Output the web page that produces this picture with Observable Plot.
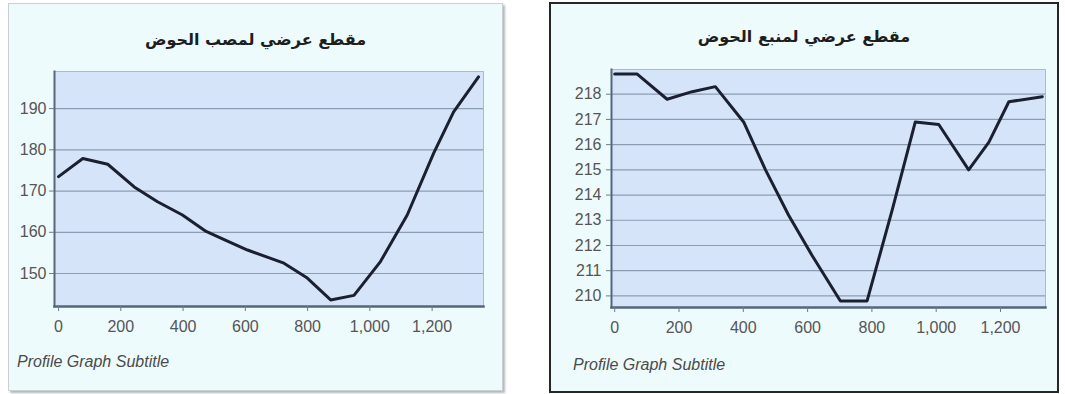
<!DOCTYPE html>
<html>
<head>
<meta charset="utf-8">
<script src="https://cdn.jsdelivr.net/npm/d3@7"></script>
<script src="https://cdn.jsdelivr.net/npm/@observablehq/plot@0.6"></script>
<style>
  html, body { margin: 0; padding: 0; background: #ffffff; width: 1065px; height: 394px; overflow: hidden; }
  .panel { position: absolute; box-sizing: border-box; background: #eefbfc; }
  #leftPanel { left: 8px; top: 3px; width: 495px; height: 388px; border: 1px solid #c9cfd3; box-shadow: 2px 2px 2px #b5b9bc; }
  #rightPanel { left: 549px; top: 2px; width: 510px; height: 391px; border: 2px solid #262626; }
  .title { position: absolute; left: 0; right: 0; text-align: center; font-family: "DejaVu Sans", sans-serif; font-weight: bold; font-size: 16px; color: #1e1e1e; direction: rtl; }
  .subtitle { position: absolute; font-family: "Liberation Sans", Arial, sans-serif; font-style: italic; font-size: 16px; color: #4a4a4a; }
  .chart { position: absolute; left: 0; }
  .chart svg { display: block; overflow: visible; }
</style>
</head>
<body>
<div id="leftPanel" class="panel">
  <div class="title" id="leftTitle" style="top:26px"></div>
  <div class="chart" id="leftChart" style="top:55px"></div>
  <div class="subtitle" style="left:8px; top:349px">Profile Graph Subtitle</div>
</div>
<div id="rightPanel" class="panel">
  <div class="title" id="rightTitle" style="top:23px"></div>
  <div class="chart" id="rightChart" style="top:54px"></div>
  <div class="subtitle" style="left:22px; top:352px">Profile Graph Subtitle</div>
</div>
<script>
// ---- data ----
const leftTitleText = "مقطع عرضي لمصب الحوض";
const rightTitleText = "مقطع عرضي لمنبع الحوض";

const leftDistance  = [0, 78, 158, 243, 318, 398, 474, 532, 607, 724, 799, 874, 949, 1034, 1120, 1205, 1269, 1349];
const leftElevation = [173.5, 177.9, 176.5, 171.0, 167.4, 164.2, 160.2, 158.2, 155.7, 152.5, 148.9, 143.6, 144.7, 152.9, 164.2, 179.2, 189.2, 197.7];

const rightDistance  = [0, 70, 163, 241, 313, 401, 469, 541, 614, 702, 785, 863, 935, 1008, 1101, 1164, 1226, 1330];
const rightElevation = [218.8, 218.8, 217.8, 218.1, 218.3, 216.9, 215.0, 213.2, 211.6, 209.8, 209.8, 213.4, 216.9, 216.8, 215.0, 216.1, 217.7, 217.9];

const xTicks = [0, 200, 400, 600, 800, 1000, 1200];
const leftYTicks = [150, 160, 170, 180, 190];
const rightYTicks = [210, 211, 212, 213, 214, 215, 216, 217, 218];

// ---- drawing ----
document.getElementById("leftTitle").textContent = leftTitleText;
document.getElementById("rightTitle").textContent = rightTitleText;

function profile({distance, elevation, xDomain, yDomain, yTicks, width, height, margins, yPad}) {
  const data = distance.map((d, i) => ({d, e: elevation[i]}));
  return Plot.plot({
    width, height,
    marginTop: margins[0], marginRight: margins[1], marginBottom: margins[2], marginLeft: margins[3],
    style: {background: "transparent", fontFamily: "'Liberation Sans', Arial, sans-serif", fontSize: "16px", color: "#505050"},
    x: {domain: xDomain, label: null},
    y: {domain: yDomain, label: null},
    marks: [
      Plot.frame({fill: "#d6e4fa", stroke: "#a9bccf", strokeWidth: 1}),
      Plot.gridY(yTicks, {stroke: "#8b9db2", strokeOpacity: 1, strokeWidth: 1.2}),
      Plot.frame({anchor: "left", stroke: "#55667a", strokeWidth: 2}),
      Plot.frame({anchor: "bottom", stroke: "#55667a", strokeWidth: 2.5}),
      Plot.axisX(xTicks, {label: null, tickSize: 5, tickPadding: 9, stroke: "#6d7a88", tickFormat: d3.format(","), fill: "#555"}),
      Plot.axisY(yTicks, {label: null, tickSize: 5, tickPadding: yPad, stroke: "#6d7a88", fill: "#555"}),
      Plot.line(data, {x: "d", y: "e", stroke: "#1b2030", strokeWidth: 3, strokeLinejoin: "round"})
    ]
  });
}

document.getElementById("leftChart").append(profile({
  distance: leftDistance, elevation: leftElevation,
  xDomain: [-13, 1365], yDomain: [142, 199], yTicks: leftYTicks,
  width: 493, height: 300, margins: [12, 19, 53, 45], yPad: 3
}));

document.getElementById("rightChart").append(profile({
  distance: rightDistance, elevation: rightElevation,
  xDomain: [-10, 1340], yDomain: [209.54, 218.98], yTicks: rightYTicks,
  width: 506, height: 300, margins: [11, 12, 51, 60], yPad: 5
}));
</script>
</body>
</html>
